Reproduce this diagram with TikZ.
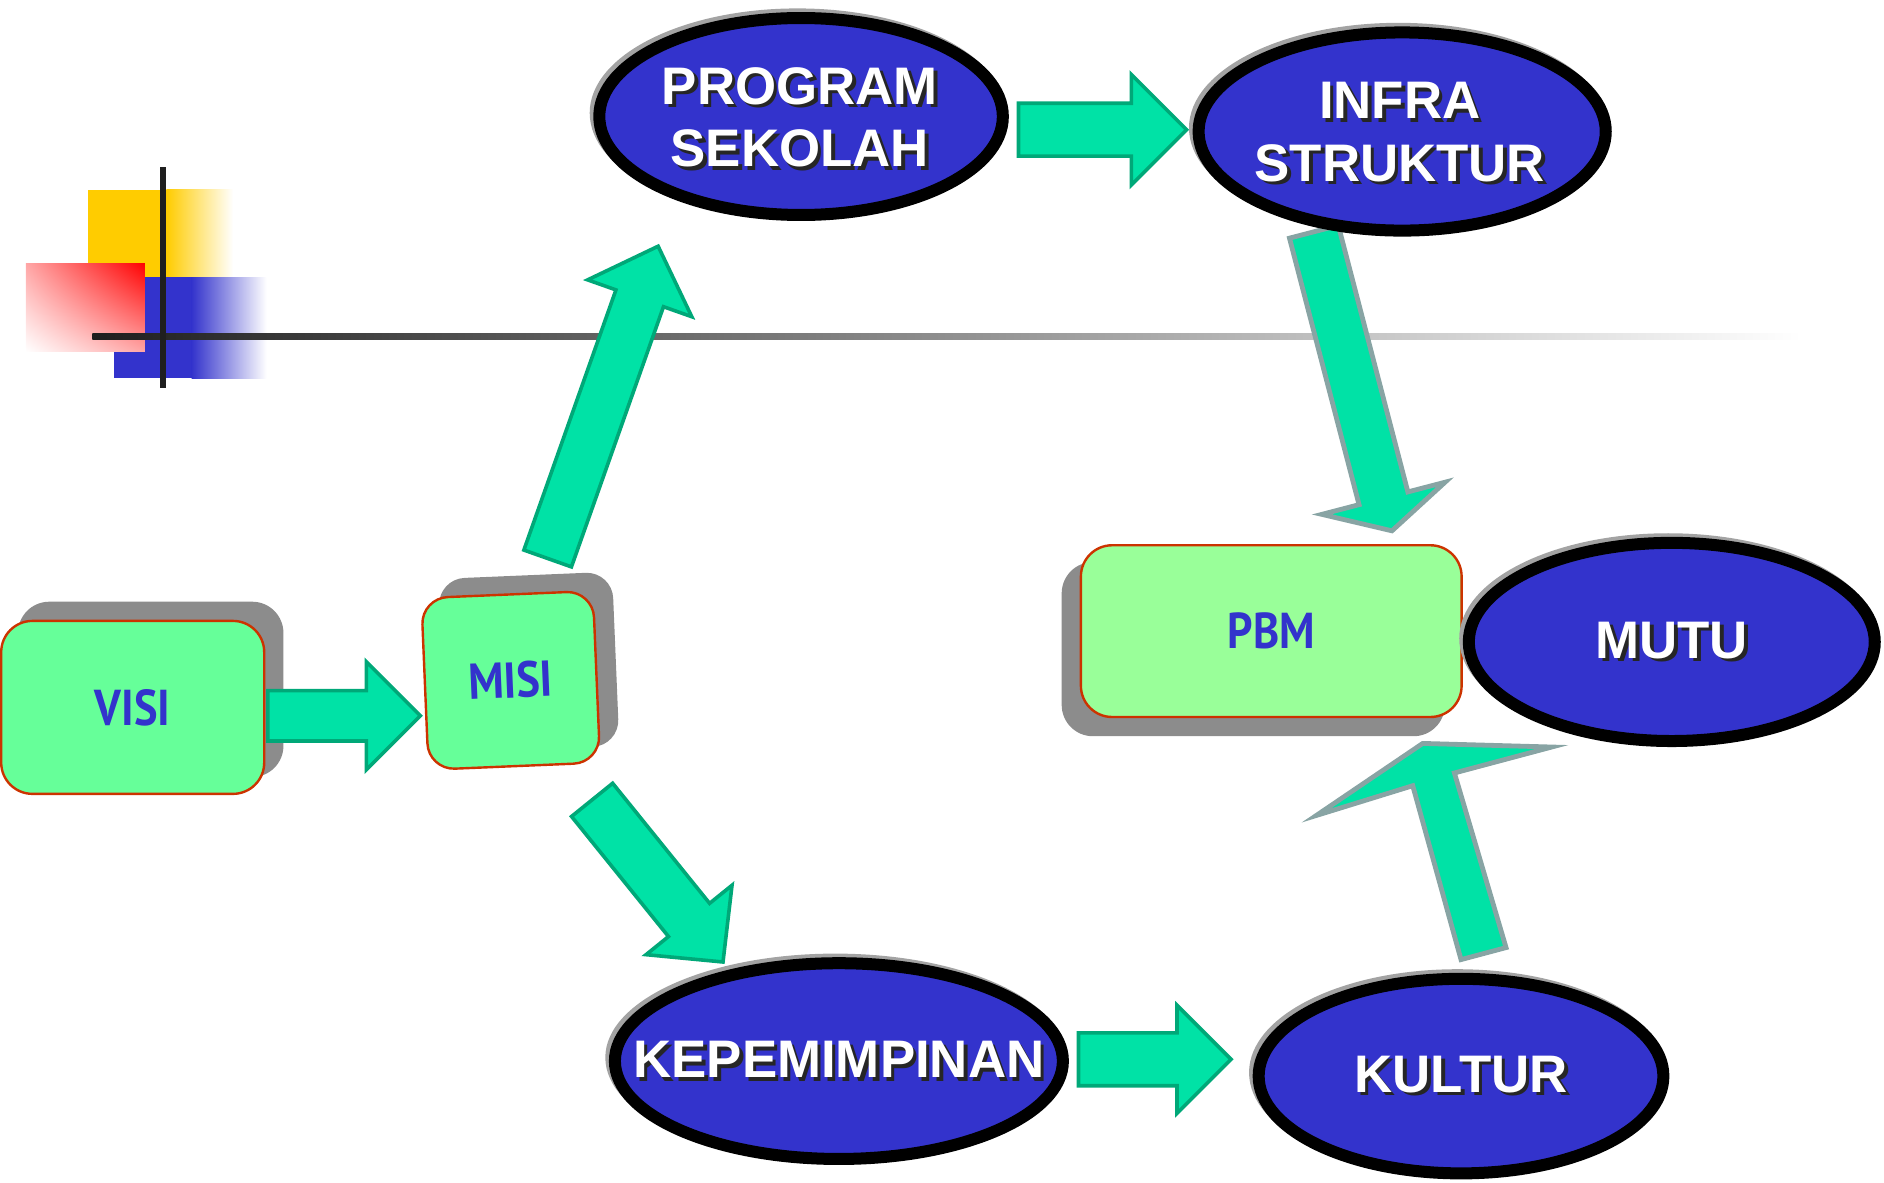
\documentclass[tikz,border=0pt]{standalone}
\usepackage{fontspec}
\setmainfont{Liberation Sans}
\newfontfamily\boxfont{PT Sans}
\usetikzlibrary{calc,shapes.geometric,shadings}

\definecolor{ovalblue}{RGB}{51,51,204}
\definecolor{boxgreen}{RGB}{102,255,153}
\definecolor{pbmgreen}{RGB}{153,255,153}
\definecolor{boxline}{RGB}{204,51,0}
\definecolor{shadowgray}{RGB}{140,140,140}
\definecolor{arrowfill}{RGB}{0,226,166}
\definecolor{arrowline}{RGB}{0,168,120}
\definecolor{arrowlinegray}{RGB}{136,164,164}
\definecolor{logoyellow}{RGB}{255,204,0}

\tikzset{
  ell/.style={ellipse, draw=black, line width=10pt, fill=ovalblue, inner sep=0pt},
  etext/.style={text=white, font=\fontsize{44}{52}\selectfont\bfseries, align=center, inner sep=0pt},
  gbox/.style={rectangle, rounded corners=26pt, draw=boxline, line width=2pt, fill=boxgreen,
    text=ovalblue, font=\boxfont\bfseries\fontsize{42}{48}\selectfont, inner sep=0pt},
  bshadow/.style={rectangle, rounded corners=26pt, fill=shadowgray, draw=none, inner sep=0pt},
  arrowA/.style={fill=arrowfill, draw=arrowline, line width=3pt, line join=miter},
  arrowB/.style={fill=arrowfill, draw=arrowlinegray, line width=4pt, line join=miter},
}

\newcommand\shd[1]{\leavevmode\rlap{\kern3pt\raisebox{-3pt}{\textcolor{black!85}{#1}}}#1}
\newcommand\narrow[1]{\scalebox{0.88}[1]{#1}}

% block arrow: style, tail, tip, shaft half width, head half width, head length
\newcommand\blockarrow[6]{%
  \path let \p1=#2, \p2=#3, \n1={atan2(\y2-\y1,\x2-\x1)}, \n2={veclen(\x2-\x1,\y2-\y1)} in
    \pgfextra{\xdef\baang{\n1}\xdef\balen{\n2}};
  \draw[#1, shift={#2}, rotate=\baang] (0,#4) -- ({\balen-#6},#4) -- ({\balen-#6},#5)
    -- (\balen,0) -- ({\balen-#6},-#5) -- ({\balen-#6},-#4) -- (0,-#4) -- cycle;
}

% blue oval: name, cx, cy, outer rx, outer ry
\newcommand\blueoval[5]{%
  \fill[shadowgray!80] (#2-3,#3-3) ellipse [x radius=#4, y radius=#5];
  \node[ell, minimum width={2*#4-10}, minimum height={2*#5-10}] (#1) at (#2,#3) {};
}

\begin{document}
\begin{tikzpicture}[x=1pt, y=-1pt]
\useasboundingbox (0,0) rectangle (1568.7,985);

% ---- logo ----
\fill[logoyellow] (73,158) rectangle (139,232);
\shade[left color=logoyellow, right color=white] (138.5,158) rectangle (194,232);
\fill[ovalblue] (95,231) rectangle (160,315);
\shade[left color=ovalblue, right color=white] (159.5,231) rectangle (222,315);
\shade[upper right=red, upper left=red!35, lower right=red!35, lower left=white] (21.6,219) rectangle (120.7,293);
\shade[left color=black!88, right color=white] (77,277.5) rectangle (1500,282.5);
\fill[black!88] (133.5,139) rectangle (138.5,323);

% ---- arrow end points ----
\coordinate (a1s) at (223,596);  \coordinate (a1e) at (350,596);
\coordinate (a2s) at (456,465);  \coordinate (a2e) at (548,205);
\coordinate (a3s) at (493,666);  \coordinate (a3e) at (602,801);
\coordinate (a4s) at (848,108);  \coordinate (a4e) at (988,108);
\coordinate (a5s) at (1094,193); \coordinate (a5e) at (1159,442);
\coordinate (a7s) at (898,882);  \coordinate (a7e) at (1025,882);

% ---- arrows ----
\blockarrow{arrowA}{(a2s)}{(a2e)}{21}{46}{46}
\blockarrow{arrowA}{(a3s)}{(a3e)}{22}{46}{45}
\blockarrow{arrowA}{(a4s)}{(a4e)}{22}{46}{46}
\blockarrow{arrowB}{(a5s)}{(a5e)}{21}{53}{28}
\blockarrow{arrowA}{(a7s)}{(a7e)}{22}{45}{45}
\draw[arrowB] (1216.5,799) -- (1254,789) -- (1211,643.6) -- (1292,622)
  -- (1184.6,619) -- (1096,679) -- (1176.3,654.2) -- cycle;

% ---- green boxes ----
\node[bshadow, minimum width=221, minimum height=146] (visish) at (125.5,574) {};
\node[gbox, minimum width=219, minimum height=144] (visi) at (110.5,589) {\narrow{VISI}};

\node[bshadow, rounded corners=22pt, rotate=2.4, minimum width=145, minimum height=145] (misish) at (440.25,551.5) {};
\node[gbox, rounded corners=22pt, rotate=2.4, minimum width=143, minimum height=143] (misi) at (425.25,566.5) {\narrow{MISI}};

\node[bshadow, minimum width=319, minimum height=145] (pbmsh) at (1043.5,540.5) {};
\node[gbox, fill=pbmgreen, minimum width=317, minimum height=143] (pbm) at (1058.5,525.5) {\narrow{PBM}};

\blockarrow{arrowA}{(a1s)}{(a1e)}{21}{45}{45}

% ---- ovals ----
\blueoval{prog}{667}{97}{173}{87}
\blueoval{infra}{1167.5}{109.5}{174.5}{87.5}
\blueoval{kep}{698.5}{883.5}{191.5}{86.5}
\blueoval{kult}{1216.5}{896}{173.5}{86}
\blueoval{mutu}{1392}{534.5}{174}{87.5}

\node[etext] (progt) at ($(prog)+(-1,2)$) {\shd{PROGRAM}\\\shd{SEKOLAH}};
\node[etext] (infrat) at ($(infra)+(-2,2)$) {\shd{INFRA}\\\shd{STRUKTUR}};
\node[etext] (kept) at (kep) {\shd{KEPEMIMPINAN}};
\node[etext] (kultt) at (kult) {\shd{KULTUR}};
\node[etext] (mutut) at (mutu) {\shd{MUTU}};
\end{tikzpicture}
\end{document}
